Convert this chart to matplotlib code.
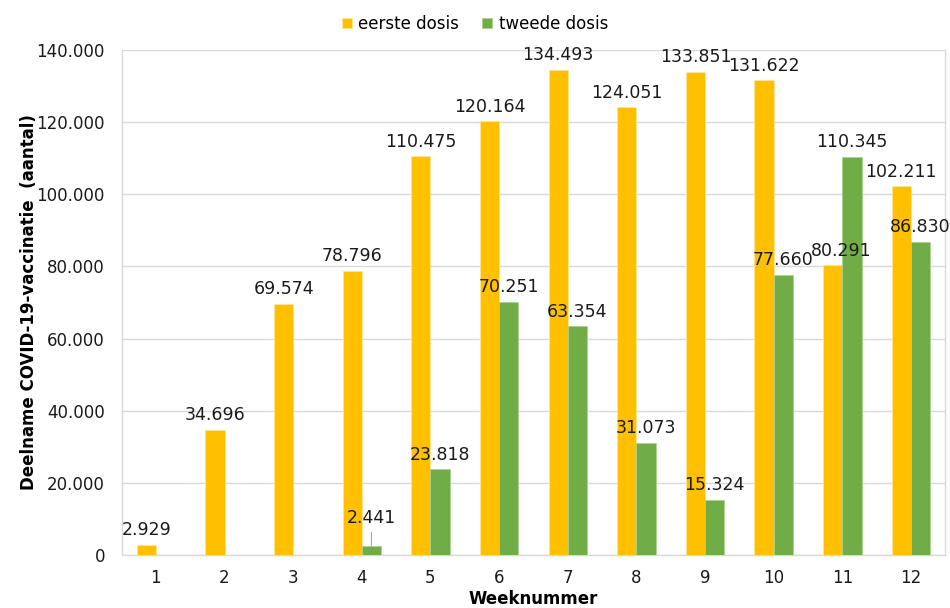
import numpy as np
import matplotlib.pyplot as plt
from matplotlib.ticker import FuncFormatter

weeks = ["1", "2", "3", "4", "5", "6", "7", "8", "9", "10", "11", "12"]
eerste = [2929, 34696, 69574, 78796, 110475, 120164, 134493, 124051, 133851, 131622, 80291, 102211]
tweede = [0, 0, 0, 2441, 23818, 70251, 63354, 31073, 15324, 77660, 110345, 86830]

YELLOW = "#FFC000"
GREEN = "#70AD47"

plt.rcParams['font.family'] = ['DejaVu Sans']

def dots(v):
    return "{:,}".format(int(v)).replace(",", ".")

fig = plt.figure(figsize=(9.5, 6.08), dpi=100)
ax = fig.add_axes([0.128, 0.087, 0.867, 0.831])

x = np.arange(len(weeks))
w = 0.28
b1 = ax.bar(x - w / 2, eerste, w, color=YELLOW, edgecolor="#FFE699", linewidth=0.5,
            label="eerste dosis", zorder=3)
b2 = ax.bar(x + w / 2, tweede, w, color=GREEN, edgecolor="#A9D18E", linewidth=0.5,
            label="tweede dosis", zorder=3)

# data labels
for i, v in enumerate(eerste):
    dx = 6 if i == 10 else 0
    ax.annotate(dots(v), (x[i] - w / 2, v), xytext=(dx, 4), textcoords="offset points",
                ha="center", va="bottom", fontsize=12.5, color="#1a1a1a", zorder=5)
for i, v in enumerate(tweede):
    if v == 0:
        continue
    if i == 3:
        # small bar: label lifted with a leader line
        ax.annotate(dots(v), (x[i] + w / 2, v), xytext=(0, 14), textcoords="offset points",
                    ha="center", va="bottom", fontsize=12.5, color="#1a1a1a", zorder=5,
                    arrowprops=dict(arrowstyle="-", color="#a6a6a6", lw=0.8,
                                    shrinkA=2, shrinkB=0))
    else:
        ax.annotate(dots(v), (x[i] + w / 2, v), xytext=(0, 4), textcoords="offset points",
                    ha="center", va="bottom", fontsize=12.5, color="#1a1a1a", zorder=5)

ax.set_xlim(-0.5, len(weeks) - 0.5)
ax.set_ylim(0, 140000)
ax.set_yticks(np.arange(0, 140001, 20000))
ax.yaxis.set_major_formatter(FuncFormatter(lambda v, p: dots(v)))
ax.set_xticks(x)
ax.set_xticklabels(weeks)
ax.tick_params(axis="both", length=0, labelsize=12, labelcolor="#1a1a1a", pad=10)
ax.tick_params(axis="y", pad=12)

ax.grid(axis="y", color="#d9d9d9", linewidth=1, zorder=0)
ax.spines["top"].set_visible(False)
for s in ["left", "right", "bottom"]:
    ax.spines[s].set_color("#d9d9d9")
    ax.spines[s].set_linewidth(1)

ax.set_xlabel("Weeknummer", fontsize=12, fontweight="bold", labelpad=2)
ax.set_ylabel("Deelname COVID-19-vaccinatie  (aantal)", fontsize=12, fontweight="bold", labelpad=-1)

fig.legend(handles=[b1, b2], loc="upper center", bbox_to_anchor=(0.5, 1.0), ncol=2,
           frameon=False, fontsize=12, handlelength=0.6, handleheight=0.6,
           handletextpad=0.4, columnspacing=1.4)

fig.savefig("out.png", dpi=100)
